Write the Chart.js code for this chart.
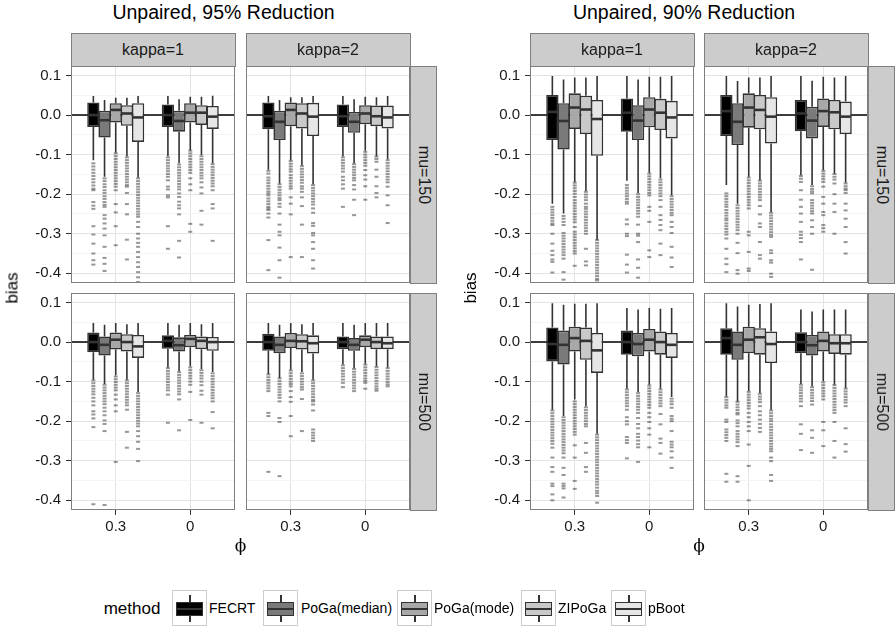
<!DOCTYPE html>
<html><head><meta charset="utf-8">
<script src="https://cdn.jsdelivr.net/npm/chart.js@4.4.1/dist/chart.umd.min.js"></script>
<style>
html,body{margin:0;padding:0;background:#fff;}
#wrap{position:relative;width:896px;height:633px;overflow:hidden;background:#fff;font-family:"Liberation Sans",Arial,Helvetica,sans-serif;color:#000;}
.txt{position:absolute;white-space:nowrap;line-height:1;}
.strip{position:absolute;background:#cccccc;border:1px solid #7f7f7f;box-sizing:border-box;}
canvas{position:absolute;}
.key{position:absolute;box-sizing:border-box;border:1px solid #cccccc;background:#fff;}
</style></head><body><div id="wrap"></div>
<script>
// ---------------- DATA ----------------
const METHODS = ['FECRT', 'PoGa(median)', 'PoGa(mode)', 'ZIPoGa', 'pBoot'];
const PHI_GROUPS = ['0.3', '0'];
const KAPPAS = ['kappa=1', 'kappa=2'];
const MUS = ['mu=150', 'mu=500'];
const TITLES = ['Unpaired, 95% Reduction', 'Unpaired, 90% Reduction'];
const Y_MAJOR = [-0.4, -0.3, -0.2, -0.1, 0, 0.1];
const Y_MINOR = [-0.35, -0.25, -0.15, -0.05, 0.05];

// each row: [lower whisker, Q1, median, Q3, upper whisker]; phi=0.3 (5 methods) then phi=0 (5 methods)
const STATS_95_K1_MU150 = [
  [-0.114,-0.030,0.000,0.032,0.048],[-0.156,-0.057,-0.013,0.011,0.038],[-0.095,-0.019,0.013,0.030,0.044],[-0.105,-0.027,0.004,0.025,0.044],[-0.158,-0.068,-0.006,0.030,0.048],
  [-0.104,-0.030,0.000,0.027,0.048],[-0.122,-0.042,-0.015,0.011,0.040],[-0.089,-0.019,0.006,0.030,0.046],[-0.101,-0.025,0.006,0.025,0.046],[-0.122,-0.035,-0.004,0.023,0.049]];
const OUT_95_K1_MU150 = [
  [-0.122,-0.13,-0.138,-0.146,-0.154,-0.162,-0.17,-0.178,-0.186,-0.19,-0.22,-0.229,-0.237,-0.281,-0.302,-0.325,-0.35,-0.367,-0.378],
  [-0.16,-0.167,-0.175,-0.182,-0.19,-0.197,-0.205,-0.212,-0.22,-0.227,-0.232,-0.253,-0.262,-0.274,-0.287,-0.304,-0.333,-0.361,-0.376,-0.394],
  [-0.097,-0.104,-0.111,-0.118,-0.125,-0.132,-0.139,-0.146,-0.153,-0.16,-0.167,-0.174,-0.181,-0.19,-0.225,-0.246,-0.281,-0.329],
  [-0.107,-0.114,-0.121,-0.128,-0.135,-0.142,-0.149,-0.156,-0.163,-0.17,-0.177,-0.181,-0.197,-0.225,-0.251,-0.315,-0.365],
  [-0.16,-0.167,-0.174,-0.181,-0.188,-0.195,-0.202,-0.209,-0.216,-0.223,-0.23,-0.237,-0.244,-0.251,-0.257,-0.27,-0.283,-0.3,-0.312,-0.323,-0.333,-0.346,-0.359,-0.372,-0.384,-0.397,-0.41,-0.422],
  [-0.107,-0.114,-0.121,-0.128,-0.135,-0.142,-0.149,-0.156,-0.165,-0.181,-0.188,-0.203,-0.208,-0.281,-0.338],
  [-0.125,-0.132,-0.139,-0.146,-0.153,-0.16,-0.167,-0.174,-0.181,-0.188,-0.198,-0.207,-0.219,-0.228,-0.236,-0.251,-0.318,-0.36],
  [-0.09,-0.097,-0.104,-0.111,-0.118,-0.125,-0.132,-0.139,-0.146,-0.16,-0.175,-0.19,-0.275,-0.295],
  [-0.104,-0.111,-0.118,-0.125,-0.132,-0.139,-0.146,-0.153,-0.16,-0.17,-0.183,-0.198,-0.242,-0.277],
  [-0.124,-0.131,-0.138,-0.145,-0.152,-0.159,-0.166,-0.173,-0.18,-0.19,-0.225,-0.236,-0.318]];

const STATS_95_K2_MU150 = [
  [-0.138,-0.036,-0.003,0.032,0.048],[-0.173,-0.063,-0.017,0.011,0.038],[-0.114,-0.028,0.013,0.032,0.045],[-0.127,-0.034,0.004,0.030,0.045],[-0.175,-0.053,-0.004,0.031,0.048],
  [-0.105,-0.030,-0.003,0.027,0.048],[-0.122,-0.045,-0.017,0.008,0.040],[-0.090,-0.023,0.004,0.025,0.046],[-0.104,-0.028,-0.003,0.024,0.045],[-0.112,-0.034,-0.006,0.024,0.048]];
const OUT_95_K2_MU150 = [
  [-0.141,-0.148,-0.158,-0.165,-0.172,-0.179,-0.186,-0.193,-0.198,-0.203,-0.211,-0.218,-0.225,-0.232,-0.236,-0.24,-0.249,-0.259,-0.316,-0.392],
  [-0.175,-0.182,-0.189,-0.196,-0.203,-0.21,-0.215,-0.224,-0.232,-0.249,-0.277,-0.295,-0.304,-0.335,-0.367,-0.411],
  [-0.116,-0.123,-0.13,-0.137,-0.143,-0.152,-0.159,-0.166,-0.173,-0.18,-0.186,-0.208,-0.224,-0.251,-0.359],
  [-0.129,-0.136,-0.143,-0.15,-0.157,-0.164,-0.171,-0.18,-0.186,-0.194,-0.208,-0.23,-0.277,-0.359],
  [-0.177,-0.184,-0.191,-0.198,-0.205,-0.212,-0.219,-0.226,-0.236,-0.247,-0.273,-0.28,-0.298,-0.304,-0.321,-0.338,-0.367,-0.388],
  [-0.107,-0.114,-0.121,-0.128,-0.135,-0.143,-0.156,-0.165,-0.175,-0.186,-0.232],
  [-0.124,-0.131,-0.138,-0.145,-0.152,-0.159,-0.165,-0.177,-0.188,-0.214,-0.253],
  [-0.093,-0.1,-0.107,-0.114,-0.121,-0.128,-0.139,-0.152,-0.163,-0.18,-0.214],
  [-0.105,-0.111,-0.118,-0.138,-0.156,-0.18,-0.197,-0.208],
  [-0.114,-0.121,-0.128,-0.135,-0.142,-0.149,-0.156,-0.163,-0.17,-0.181,-0.203,-0.228,-0.273]];

const STATS_95_K1_MU500 = [
  [-0.095,-0.026,0.000,0.024,0.048],[-0.106,-0.034,-0.007,0.014,0.044],[-0.084,-0.019,0.006,0.024,0.048],[-0.095,-0.024,0.000,0.020,0.045],[-0.126,-0.040,-0.011,0.018,0.048],
  [-0.064,-0.017,0.003,0.017,0.048],[-0.074,-0.024,-0.008,0.012,0.044],[-0.061,-0.013,0.008,0.018,0.048],[-0.068,-0.018,0.003,0.014,0.045],[-0.076,-0.022,0.000,0.013,0.048]];
const OUT_95_K1_MU500 = [
  [-0.097,-0.104,-0.111,-0.118,-0.125,-0.132,-0.141,-0.15,-0.16,-0.175,-0.183,-0.193,-0.215,-0.41],
  [-0.108,-0.115,-0.122,-0.129,-0.136,-0.143,-0.15,-0.157,-0.166,-0.175,-0.185,-0.198,-0.207,-0.225,-0.412],
  [-0.087,-0.094,-0.101,-0.108,-0.115,-0.122,-0.133,-0.145,-0.16,-0.175,-0.303],
  [-0.097,-0.104,-0.111,-0.118,-0.125,-0.132,-0.139,-0.146,-0.153,-0.16,-0.171,-0.227,-0.267],
  [-0.129,-0.136,-0.143,-0.15,-0.157,-0.164,-0.171,-0.178,-0.185,-0.192,-0.199,-0.206,-0.213,-0.225,-0.238,-0.252,-0.27,-0.301],
  [-0.066,-0.073,-0.08,-0.087,-0.094,-0.101,-0.108,-0.115,-0.122,-0.133,-0.204],
  [-0.076,-0.083,-0.09,-0.097,-0.104,-0.111,-0.118,-0.125,-0.132,-0.145,-0.223],
  [-0.064,-0.071,-0.078,-0.085,-0.092,-0.1,-0.108,-0.126,-0.197],
  [-0.071,-0.078,-0.085,-0.092,-0.1,-0.109,-0.123,-0.133,-0.204],
  [-0.079,-0.086,-0.093,-0.1,-0.107,-0.114,-0.121,-0.128,-0.135,-0.142,-0.15,-0.177,-0.218]];

const STATS_95_K2_MU500 = [
  [-0.081,-0.022,0.000,0.021,0.048],[-0.091,-0.028,-0.007,0.014,0.044],[-0.070,-0.015,0.003,0.023,0.048],[-0.076,-0.019,0.002,0.020,0.045],[-0.095,-0.029,-0.003,0.017,0.048],
  [-0.057,-0.018,0.000,0.014,0.048],[-0.066,-0.022,-0.007,0.010,0.044],[-0.055,-0.013,0.006,0.017,0.048],[-0.061,-0.018,0.000,0.014,0.048],[-0.064,-0.018,-0.003,0.014,0.048]];
const OUT_95_K2_MU500 = [
  [-0.082,-0.089,-0.096,-0.103,-0.11,-0.117,-0.124,-0.179,-0.187,-0.328],
  [-0.092,-0.099,-0.106,-0.113,-0.12,-0.127,-0.134,-0.141,-0.15,-0.192,-0.202,-0.339],
  [-0.072,-0.079,-0.086,-0.093,-0.1,-0.106,-0.112,-0.124,-0.139,-0.151,-0.187,-0.238],
  [-0.079,-0.086,-0.093,-0.1,-0.107,-0.114,-0.12,-0.144,-0.225],
  [-0.097,-0.104,-0.111,-0.118,-0.125,-0.132,-0.139,-0.146,-0.15,-0.158,-0.173,-0.221,-0.229,-0.236,-0.243,-0.25],
  [-0.059,-0.066,-0.073,-0.08,-0.087,-0.095,-0.103,-0.114],
  [-0.068,-0.075,-0.082,-0.089,-0.096,-0.103,-0.11,-0.117,-0.124],
  [-0.057,-0.064,-0.071,-0.078,-0.085,-0.092,-0.098,-0.103,-0.118],
  [-0.063,-0.07,-0.077,-0.084,-0.091,-0.098,-0.105,-0.112,-0.118,-0.123],
  [-0.066,-0.073,-0.08,-0.087,-0.094,-0.101,-0.107,-0.112]];

const STATS_90_K1_MU150 = [
  [-0.224,-0.063,0.008,0.051,0.099],[-0.249,-0.087,-0.015,0.030,0.090],[-0.169,-0.035,0.019,0.055,0.095],[-0.192,-0.048,0.014,0.049,0.095],[-0.315,-0.103,-0.010,0.038,0.099],
  [-0.166,-0.042,0.006,0.042,0.099],[-0.197,-0.063,-0.014,0.025,0.090],[-0.146,-0.031,0.014,0.045,0.097],[-0.160,-0.038,0.006,0.041,0.097],[-0.203,-0.059,-0.006,0.036,0.099]];
const OUT_90_K1_MU150 = [
  [-0.232,-0.239,-0.246,-0.253,-0.26,-0.267,-0.274,-0.278,-0.3,-0.325,-0.343,-0.354,-0.365,-0.371,-0.398],
  [-0.255,-0.262,-0.27,-0.278,-0.298,-0.305,-0.312,-0.319,-0.326,-0.333,-0.34,-0.347,-0.354,-0.363,-0.397,-0.416],
  [-0.171,-0.178,-0.185,-0.192,-0.199,-0.207,-0.215,-0.222,-0.229,-0.236,-0.243,-0.25,-0.257,-0.264,-0.271,-0.283,-0.295,-0.302,-0.309,-0.316,-0.323,-0.33,-0.337,-0.344,-0.35,-0.381],
  [-0.194,-0.201,-0.208,-0.215,-0.224,-0.232,-0.237,-0.244,-0.251,-0.258,-0.265,-0.272,-0.279,-0.286,-0.293,-0.3,-0.338,-0.37,-0.38],
  [-0.316,-0.323,-0.33,-0.337,-0.344,-0.351,-0.358,-0.365,-0.372,-0.379,-0.386,-0.393,-0.4,-0.407,-0.414,-0.418],
  [-0.177,-0.184,-0.191,-0.198,-0.205,-0.212,-0.219,-0.224,-0.264,-0.276,-0.3,-0.306,-0.353,-0.378,-0.398],
  [-0.2,-0.207,-0.214,-0.221,-0.228,-0.235,-0.242,-0.249,-0.257,-0.277,-0.3,-0.305,-0.321,-0.365,-0.386,-0.411],
  [-0.148,-0.155,-0.162,-0.169,-0.176,-0.183,-0.19,-0.197,-0.203,-0.232,-0.242,-0.27,-0.342,-0.359],
  [-0.163,-0.17,-0.177,-0.184,-0.191,-0.198,-0.205,-0.215,-0.232,-0.253,-0.265,-0.278,-0.291,-0.325,-0.354],
  [-0.205,-0.212,-0.219,-0.226,-0.233,-0.24,-0.247,-0.253,-0.27,-0.283,-0.298,-0.333,-0.36,-0.384]];

const STATS_90_K2_MU150 = [
  [-0.177,-0.053,0.010,0.051,0.099],[-0.224,-0.076,-0.017,0.030,0.086],[-0.156,-0.032,0.019,0.055,0.095],[-0.165,-0.036,0.013,0.051,0.095],[-0.245,-0.072,-0.004,0.045,0.099],
  [-0.152,-0.041,0.004,0.038,0.099],[-0.177,-0.059,-0.014,0.021,0.087],[-0.139,-0.030,0.010,0.042,0.097],[-0.148,-0.036,0.007,0.038,0.095],[-0.171,-0.048,-0.004,0.034,0.099]];
const OUT_90_K2_MU150 = [
  [-0.198,-0.205,-0.212,-0.219,-0.226,-0.232,-0.24,-0.247,-0.254,-0.261,-0.266,-0.274,-0.281,-0.288,-0.295,-0.302,-0.312,-0.338,-0.363,-0.377,-0.397],
  [-0.228,-0.235,-0.242,-0.249,-0.256,-0.263,-0.27,-0.277,-0.284,-0.291,-0.3,-0.323,-0.349,-0.392,-0.401],
  [-0.158,-0.165,-0.172,-0.179,-0.186,-0.193,-0.2,-0.207,-0.214,-0.221,-0.228,-0.236,-0.295,-0.304,-0.346,-0.388,-0.394],
  [-0.166,-0.173,-0.18,-0.187,-0.194,-0.201,-0.208,-0.215,-0.23,-0.251,-0.274,-0.283,-0.321,-0.354,-0.363],
  [-0.247,-0.254,-0.261,-0.268,-0.275,-0.282,-0.289,-0.296,-0.303,-0.308,-0.342,-0.349,-0.367,-0.373,-0.401,-0.409],
  [-0.154,-0.161,-0.169,-0.19,-0.214,-0.232,-0.249,-0.27,-0.295,-0.303,-0.311,-0.321,-0.365],
  [-0.18,-0.187,-0.193,-0.198,-0.215,-0.222,-0.229,-0.236,-0.243,-0.249,-0.266,-0.283,-0.3,-0.391],
  [-0.141,-0.148,-0.155,-0.162,-0.169,-0.181,-0.207,-0.224,-0.245,-0.253,-0.278,-0.286,-0.295],
  [-0.149,-0.156,-0.163,-0.173,-0.2,-0.224,-0.245,-0.3],
  [-0.173,-0.18,-0.186,-0.19,-0.197,-0.224,-0.241,-0.262,-0.283,-0.321,-0.35]];

const STATS_90_K1_MU500 = [
  [-0.171,-0.049,-0.005,0.037,0.098],[-0.187,-0.057,-0.007,0.029,0.094],[-0.145,-0.024,0.010,0.039,0.097],[-0.162,-0.045,0.003,0.037,0.097],[-0.232,-0.078,-0.021,0.023,0.098],
  [-0.118,-0.032,0.000,0.029,0.086],[-0.126,-0.036,-0.005,0.023,0.082],[-0.108,-0.024,0.006,0.033,0.086],[-0.118,-0.032,0.000,0.027,0.084],[-0.139,-0.040,-0.007,0.023,0.086]];
const OUT_90_K1_MU500 = [
  [-0.173,-0.18,-0.187,-0.194,-0.201,-0.208,-0.215,-0.222,-0.229,-0.236,-0.243,-0.25,-0.257,-0.267,-0.292,-0.316,-0.328,-0.358,-0.364,-0.385,-0.4],
  [-0.19,-0.197,-0.204,-0.211,-0.218,-0.225,-0.232,-0.239,-0.246,-0.253,-0.26,-0.267,-0.274,-0.281,-0.292,-0.318,-0.336,-0.358,-0.364,-0.37,-0.393],
  [-0.15,-0.157,-0.164,-0.171,-0.178,-0.185,-0.192,-0.199,-0.206,-0.213,-0.22,-0.227,-0.234,-0.261,-0.292,-0.351,-0.371],
  [-0.165,-0.172,-0.179,-0.186,-0.193,-0.2,-0.207,-0.213,-0.255,-0.28,-0.316,-0.328],
  [-0.234,-0.241,-0.248,-0.255,-0.262,-0.269,-0.276,-0.283,-0.29,-0.297,-0.304,-0.311,-0.318,-0.325,-0.332,-0.339,-0.346,-0.353,-0.36,-0.368,-0.376,-0.382,-0.389,-0.406],
  [-0.12,-0.127,-0.134,-0.141,-0.148,-0.155,-0.162,-0.171,-0.19,-0.2,-0.208,-0.24,-0.248,-0.255,-0.294],
  [-0.129,-0.136,-0.143,-0.15,-0.157,-0.164,-0.171,-0.179,-0.192,-0.207,-0.218,-0.232,-0.24,-0.249,-0.258,-0.266,-0.303],
  [-0.11,-0.117,-0.124,-0.131,-0.138,-0.145,-0.152,-0.159,-0.166,-0.179,-0.19,-0.202,-0.218,-0.234,-0.266],
  [-0.12,-0.127,-0.134,-0.141,-0.148,-0.155,-0.162,-0.182,-0.208,-0.244,-0.255,-0.282],
  [-0.143,-0.15,-0.157,-0.166,-0.187,-0.194,-0.2,-0.225,-0.252,-0.259,-0.266,-0.276,-0.292,-0.318]];

const STATS_90_K2_MU500 = [
  [-0.137,-0.032,0.010,0.035,0.098],[-0.150,-0.045,-0.007,0.027,0.090],[-0.124,-0.028,0.006,0.039,0.094],[-0.129,-0.032,0.012,0.035,0.096],[-0.171,-0.053,-0.005,0.027,0.098],
  [-0.106,-0.028,0.000,0.025,0.082],[-0.112,-0.034,-0.008,0.018,0.077],[-0.099,-0.024,0.003,0.027,0.082],[-0.108,-0.030,-0.003,0.020,0.082],[-0.116,-0.032,-0.003,0.020,0.082]];
const OUT_90_K2_MU500 = [
  [-0.139,-0.146,-0.153,-0.16,-0.166,-0.196,-0.202,-0.221,-0.228,-0.235,-0.242,-0.25,-0.333,-0.353],
  [-0.151,-0.158,-0.165,-0.172,-0.179,-0.183,-0.198,-0.205,-0.213,-0.225,-0.232,-0.239,-0.246,-0.253,-0.263,-0.339,-0.353],
  [-0.126,-0.133,-0.14,-0.147,-0.154,-0.161,-0.168,-0.179,-0.19,-0.202,-0.213,-0.225,-0.259,-0.313,-0.4],
  [-0.131,-0.138,-0.145,-0.152,-0.162,-0.175,-0.185,-0.196,-0.207,-0.217,-0.227],
  [-0.173,-0.18,-0.187,-0.194,-0.2,-0.208,-0.215,-0.222,-0.229,-0.236,-0.243,-0.25,-0.257,-0.264,-0.27,-0.276,-0.292,-0.301,-0.336,-0.351],
  [-0.108,-0.115,-0.122,-0.129,-0.136,-0.143,-0.15,-0.162,-0.208,-0.232,-0.273],
  [-0.114,-0.121,-0.128,-0.135,-0.142,-0.149,-0.158,-0.223,-0.242,-0.28],
  [-0.102,-0.109,-0.116,-0.123,-0.13,-0.137,-0.145,-0.202,-0.223,-0.263],
  [-0.109,-0.116,-0.123,-0.13,-0.137,-0.144,-0.151,-0.158,-0.165,-0.172,-0.179,-0.202,-0.25,-0.292],
  [-0.118,-0.125,-0.132,-0.139,-0.146,-0.153,-0.162,-0.218,-0.258,-0.277]];

// ---------------- STYLE / LAYOUT ----------------
const FILLS = ['#000000', '#7a7a7a', '#a8a8a8', '#c9c9c9', '#e6e6e6'];
const DODGE = [-0.3, -0.15, 0, 0.15, 0.3];
const FONT = '"Liberation Sans", Arial, Helvetica, sans-serif';
const COL_LEFTS = [[71, 246], [530, 704]];
const ROW_TOPS = [66, 293];
const PW = 164, PH = 217, AXW = 71, AXH = 40, PAD = 2;
const Y_MIN = -0.4245, Y_MAX = 0.124;
const Y_ALL = Y_MAJOR.concat(Y_MINOR).sort((a, b) => a - b);
const isMajor = v => Y_MAJOR.some(m => Math.abs(m - v) < 1e-9);

const PANELS = [
  {grid: 0, row: 0, col: 0, stats: STATS_95_K1_MU150, outs: OUT_95_K1_MU150},
  {grid: 0, row: 0, col: 1, stats: STATS_95_K2_MU150, outs: OUT_95_K2_MU150},
  {grid: 0, row: 1, col: 0, stats: STATS_95_K1_MU500, outs: OUT_95_K1_MU500},
  {grid: 0, row: 1, col: 1, stats: STATS_95_K2_MU500, outs: OUT_95_K2_MU500},
  {grid: 1, row: 0, col: 0, stats: STATS_90_K1_MU150, outs: OUT_90_K1_MU150},
  {grid: 1, row: 0, col: 1, stats: STATS_90_K2_MU150, outs: OUT_90_K2_MU150},
  {grid: 1, row: 1, col: 0, stats: STATS_90_K1_MU500, outs: OUT_90_K1_MU500},
  {grid: 1, row: 1, col: 1, stats: STATS_90_K2_MU500, outs: OUT_90_K2_MU500}
];

const wrap = document.getElementById('wrap');

function addText(str, cx, cy, size, rot, extra) {
  const d = document.createElement('div');
  d.className = 'txt';
  d.textContent = str;
  d.style.fontSize = size + 'px';
  d.style.left = cx + 'px';
  d.style.top = cy + 'px';
  d.style.transform = 'translate(-50%,-50%)' + (rot ? ' rotate(' + rot + 'deg)' : '');
  if (extra) Object.assign(d.style, extra);
  wrap.appendChild(d);
  return d;
}

const boxPlugin = {
  id: 'boxExtras',
  beforeDatasetsDraw(chart) {
    const {ctx, chartArea: a, scales: {y}} = chart;
    ctx.save();
    const y0 = y.getPixelForValue(0);
    ctx.strokeStyle = '#000';
    ctx.lineWidth = 1.6;
    ctx.beginPath(); ctx.moveTo(a.left, y0); ctx.lineTo(a.right, y0); ctx.stroke();
    ctx.strokeStyle = '#333333';
    ctx.lineWidth = 1.6;
    chart.data.datasets.forEach((ds, di) => {
      chart.getDatasetMeta(di).data.forEach((bar, gi) => {
        const s = ds.whisk[gi];
        ctx.beginPath();
        ctx.moveTo(bar.x, y.getPixelForValue(s[4])); ctx.lineTo(bar.x, y.getPixelForValue(s[3]));
        ctx.moveTo(bar.x, y.getPixelForValue(s[1])); ctx.lineTo(bar.x, y.getPixelForValue(s[0]));
        ctx.stroke();
      });
    });
    ctx.restore();
  },
  afterDatasetsDraw(chart) {
    const {ctx, chartArea: a, scales: {y}} = chart;
    ctx.save();
    chart.data.datasets.forEach((ds, di) => {
      chart.getDatasetMeta(di).data.forEach((bar, gi) => {
        const s = ds.whisk[gi];
        const ym = y.getPixelForValue(s[2]);
        ctx.strokeStyle = '#333333';
        ctx.lineWidth = 2.6;
        ctx.beginPath(); ctx.moveTo(bar.x - bar.width / 2 + 1, ym); ctx.lineTo(bar.x + bar.width / 2 - 1, ym); ctx.stroke();
        ctx.fillStyle = 'rgba(45,45,45,0.5)';
        ds.outl[gi].forEach(v => {
          const py = y.getPixelForValue(v);
          ctx.fillRect(bar.x - 2, py - 1, 4, 2);
        });
      });
    });
    ctx.strokeStyle = '#7f7f7f';
    ctx.lineWidth = 1;
    ctx.strokeRect(a.left + 0.5, a.top + 0.5, a.right - a.left - 1, a.bottom - a.top - 1);
    ctx.restore();
  }
};

function buildPanel(p) {
  const left = COL_LEFTS[p.grid][p.col], top = ROW_TOPS[p.row];
  const showY = p.col === 0, showX = p.row === 1;
  const cv = document.createElement('canvas');
  const W = AXW + PW + PAD, H = PAD + PH + AXH;
  cv.width = W; cv.height = H;
  cv.style.width = W + 'px'; cv.style.height = H + 'px';
  cv.style.left = (left - AXW) + 'px'; cv.style.top = (top - PAD) + 'px';
  wrap.appendChild(cv);
  const n = METHODS.length;
  const datasets = METHODS.map((m, mi) => ({
    label: m,
    data: PHI_GROUPS.map((g, gi) => {
      const s = p.stats[gi * n + mi];
      return {x: gi + 1 + DODGE[mi], y: [s[1], s[3]]};
    }),
    whisk: PHI_GROUPS.map((g, gi) => p.stats[gi * n + mi]),
    outl: PHI_GROUPS.map((g, gi) => p.outs[gi * n + mi]),
    backgroundColor: FILLS[mi],
    borderColor: '#333333',
    borderWidth: 1.6,
    borderSkipped: false,
    grouped: false,
    barPercentage: 1.1,
    categoryPercentage: 1
  }));
  new Chart(cv, {
    type: 'bar',
    data: {datasets},
    options: {
      responsive: false,
      animation: false,
      devicePixelRatio: 1,
      events: [],
      layout: {padding: {top: PAD, right: PAD, left: 0, bottom: 0}},
      plugins: {legend: {display: false}, tooltip: {enabled: false}},
      scales: {
        x: {
          type: 'linear', min: 0.4, max: 2.6, offset: false,
          afterBuildTicks: s => { s.ticks = PHI_GROUPS.map((g, i) => ({value: i + 1})); },
          afterFit: s => { s.height = AXH; s.paddingLeft = 0; s.paddingRight = 0; },
          grid: {offset: false, color: '#e3e3e3', lineWidth: 1, drawTicks: showX, tickLength: 5, tickColor: '#333333', tickWidth: 1},
          border: {display: false},
          ticks: {display: showX, autoSkip: false, maxRotation: 0, padding: 3, color: '#1a1a1a',
            font: {family: FONT, size: 15}, callback: (v, i) => PHI_GROUPS[i]}
        },
        y: {
          type: 'linear', min: Y_MIN, max: Y_MAX,
          afterBuildTicks: s => { s.ticks = Y_ALL.map(v => ({value: v})); },
          afterFit: s => { s.width = AXW; s.paddingTop = 0; s.paddingBottom = 0; },
          grid: {
            color: c => (c.tick && isMajor(c.tick.value)) ? '#e3e3e3' : '#f4f4f4',
            lineWidth: 1,
            drawTicks: showY, tickLength: 5, tickWidth: 1,
            tickColor: c => (c.tick && isMajor(c.tick.value)) ? '#333333' : 'rgba(0,0,0,0)'
          },
          border: {display: false},
          ticks: {display: showY, autoSkip: false, padding: 5, color: '#1a1a1a',
            font: {family: FONT, size: 15},
            callback: v => isMajor(v) ? (Math.abs(v) < 1e-9 ? 0 : v).toFixed(1) : ''}
        }
      }
    },
    plugins: [boxPlugin]
  });
}

PANELS.forEach(buildPanel);

// strips
[0, 1].forEach(g => {
  KAPPAS.forEach((k, c) => {
    const s = document.createElement('div');
    s.className = 'strip';
    Object.assign(s.style, {left: COL_LEFTS[g][c] + 'px', top: '33px', width: (PW + 1) + 'px', height: '34px'});
    wrap.appendChild(s);
    addText(k, COL_LEFTS[g][c] + PW / 2, 50, 16, 0, {color: '#1a1a1a'});
  });
  MUS.forEach((m, r) => {
    const x0 = COL_LEFTS[g][1] + PW;
    const s = document.createElement('div');
    s.className = 'strip';
    Object.assign(s.style, {left: x0 + 'px', top: ROW_TOPS[r] + 'px', width: '27px', height: (PH + 1) + 'px'});
    wrap.appendChild(s);
    addText(m, x0 + 14, ROW_TOPS[r] + PH / 2, 16, 90, {color: '#1a1a1a'});
  });
});

// titles & axis titles
addText(TITLES[0], 223.5, 13, 19.5);
addText(TITLES[1], 684, 13, 19.5);
addText('bias', 12, 288, 17, -90);
addText('bias', 470, 288, 17, -90);
addText('\u03D5', 240.5, 545, 17, 0, {fontFamily: '"DejaVu Serif","Liberation Serif",serif'});
addText('\u03D5', 699, 545, 17, 0, {fontFamily: '"DejaVu Serif","Liberation Serif",serif'});

// legend
addText('method', 132, 608, 17);
const KEY_LEFTS = [172, 263, 397, 521, 611];
const LABEL_LEFTS = [209, 301, 434, 558, 648];
METHODS.forEach((m, i) => {
  const k = document.createElement('div');
  k.className = 'key';
  Object.assign(k.style, {left: KEY_LEFTS[i] + 'px', top: '590px', width: '35px', height: '36px'});
  const part = (css) => { const d = document.createElement('div'); d.style.position = 'absolute'; Object.assign(d.style, css); k.appendChild(d); };
  part({left: '16px', top: '4px', width: '1.6px', height: '8px', background: '#333'});
  part({left: '16px', top: '24px', width: '1.6px', height: '7px', background: '#333'});
  part({left: '3px', top: '11px', width: '27px', height: '14px', background: FILLS[i], border: '1.6px solid #333', boxSizing: 'border-box'});
  part({left: '3px', top: '16.7px', width: '27px', height: '2.6px', background: '#333'});
  wrap.appendChild(k);
  const t = addText(m, LABEL_LEFTS[i], 608, 14);
  t.style.transform = 'translate(0,-50%)';
});
</script></body></html>
